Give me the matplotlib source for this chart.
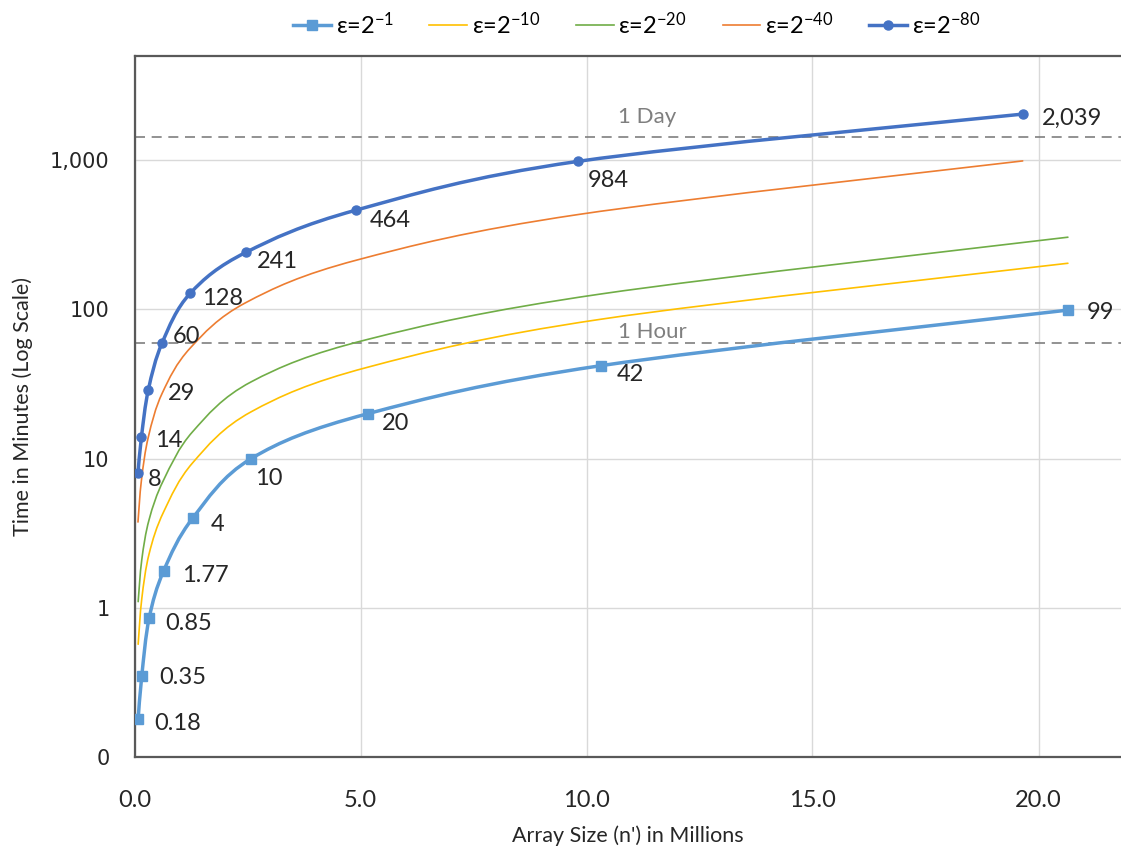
import numpy as np
import matplotlib
matplotlib.use('Agg')
from matplotlib import pyplot as plt
from matplotlib.path import Path
from matplotlib.patches import PathPatch
from matplotlib.lines import Line2D

plt.rcParams['font.family'] = ['Lato', 'DejaVu Sans']
plt.rcParams['mathtext.fontset'] = 'custom'
plt.rcParams['mathtext.rm'] = 'Lato'
plt.rcParams['mathtext.it'] = 'Lato'
plt.rcParams['mathtext.default'] = 'rm'

# array sizes in millions (two sample sets)
n_a = [0.081, 0.161, 0.323, 0.645, 1.29, 2.58, 5.16, 10.32, 20.65]
n_b = [0.077, 0.154, 0.307, 0.614, 1.23, 2.46, 4.91, 9.82, 19.65]

# time in minutes
t_e1 = [0.18, 0.35, 0.85, 1.77, 4, 10, 20, 42, 99]
t_e10 = [0.57, 1.15, 2.3, 4.4, 9.4, 20.6, 41, 86, 204]
t_e20 = [1.1, 2.1, 3.9, 7.2, 15.2, 32.7, 63, 127, 305]
t_e40 = [3.76, 7.2, 14, 27.5, 55, 111, 214, 433, 990]
t_e80 = [8, 14, 29, 60, 128, 241, 464, 984, 2039]

lbl_e1 = ['0.18', '0.35', '0.85', '1.77', '4', '10', '20', '42', '99']
lbl_e80 = ['8', '14', '29', '60', '128', '241', '464', '984', '2,039']

names = ['ε=2$^{-1}$', 'ε=2$^{-10}$', 'ε=2$^{-20}$', 'ε=2$^{-40}$', 'ε=2$^{-80}$']

hour = 60
day = 1440

ytick_vals = [0.1, 1, 10, 100, 1000]
ytick_lbls = ['0', '1', '10', '100', '1,000']
xtick_vals = [0, 5, 10, 15, 20]

c_e1 = '#5B9BD5'
c_e10 = '#FFC000'
c_e20 = '#70AD47'
c_e40 = '#ED7D31'
c_e80 = '#4472C4'


def smooth(xs, ys):
    # bezier path through the points, smoothed in (x, log y) space like Excel
    p = np.column_stack([np.asarray(xs, float), np.log10(ys)])
    n = len(p)
    verts = [p[0]]
    codes = [Path.MOVETO]
    for i in range(n - 1):
        p0 = p[max(i - 1, 0)]
        p1 = p[i]
        p2 = p[i + 1]
        p3 = p[min(i + 2, n - 1)]
        verts += [p1 + (p2 - p0) / 6, p2 - (p3 - p1) / 6, p2]
        codes += [Path.CURVE4] * 3
    verts = np.array(verts)
    verts[:, 1] = 10 ** verts[:, 1]
    return Path(verts, codes)


W, H = 1121, 850
fig = plt.figure(figsize=(W / 100, H / 100), dpi=100)
x0, y0, ytop = 134.5, 757, 56
ax = fig.add_axes([x0 / W, 1 - y0 / H, 1 - x0 / W, (y0 - ytop) / H])
ax.set_yscale('log')
ax.set_ylim(0.1, 5000)
ax.set_xlim(0, (W - x0) / 45.2)

ax.grid(True, color='#D9D9D9', lw=1.0)
ax.set_axisbelow(True)
ax.set_xticks(xtick_vals)
ax.set_xticklabels(['%.1f' % v for v in xtick_vals], fontsize=17, color='#262626')
ax.set_yticks(ytick_vals)
ax.set_yticklabels(ytick_lbls, fontsize=15, color='#262626', family='DejaVu Sans')
ax.minorticks_off()
ax.tick_params(axis='x', length=0, pad=24)
ax.tick_params(axis='y', length=0, pad=18)
for s in ['left', 'bottom', 'top']:
    ax.spines[s].set_color('#595959')
    ax.spines[s].set_linewidth(1.6)
ax.spines['right'].set_visible(False)

# reference lines
ax.axhline(day, color='#7F7F7F', lw=1.2, ls=(0, (6, 4)), zorder=1)
ax.axhline(hour, color='#7F7F7F', lw=1.2, ls=(0, (6, 4)), zorder=1)
ax.text(10.69, 1790, '1 Day', color='#7F7F7F', fontsize=16, va='baseline')
ax.text(10.69, 64.3, '1 Hour', color='#7F7F7F', fontsize=16, va='baseline')

series = [
    (n_b, t_e40, c_e40, 1.2),
    (n_a, t_e20, c_e20, 1.2),
    (n_a, t_e10, c_e10, 1.2),
    (n_a, t_e1, c_e1, 2.5),
    (n_b, t_e80, c_e80, 2.5),
]
for xs, ys, c, lw in series:
    ax.add_patch(PathPatch(smooth(xs, ys), fill=False, edgecolor=c, lw=lw,
                           capstyle='round', joinstyle='round', zorder=3))

ax.plot(n_a, t_e1, ls='none', marker='s', ms=7, color=c_e1, zorder=4)
ax.plot(n_b, t_e80, ls='none', marker='o', ms=6.5, color=c_e80, zorder=4)

# data label offsets in pixels (dx right, dy down)
off_e1 = [(16, 3), (17, 0), (16, 3), (18, 3), (18, 4), (4, 18), (14, 8), (16, 7), (19, 0)]
off_e80 = [(10, 4), (14, 2), (19, 2), (10, -8), (12, 3), (11, 7), (13, 8), (9, 17), (19, 2)]
k = 0.72
for xs, ys, lbls, offs in [(n_a, t_e1, lbl_e1, off_e1), (n_b, t_e80, lbl_e80, off_e80)]:
    for x, y, t, (dx, dy) in zip(xs, ys, lbls, offs):
        ax.annotate(t, (x, y), xytext=(dx * k, -dy * k), textcoords='offset points',
                    ha='left', va='center_baseline', fontsize=17, color='#262626', zorder=5)

ax.set_xlabel("Array Size (n') in Millions", fontsize=15.5, color='#262626', labelpad=10)
ax.set_ylabel('Time in Minutes (Log Scale)', fontsize=15.5, color='#262626', labelpad=12)

handles = [
    Line2D([], [], color=c_e1, lw=2.5, marker='s', ms=7),
    Line2D([], [], color=c_e10, lw=1.2),
    Line2D([], [], color=c_e20, lw=1.2),
    Line2D([], [], color=c_e40, lw=1.2),
    Line2D([], [], color=c_e80, lw=2.5, marker='o', ms=6.5),
]
fig.legend(handles, names, loc='upper center', bbox_to_anchor=(0.568, 1.012), ncol=5,
           frameon=False, fontsize=17, handlelength=1.6, columnspacing=1.5,
           handletextpad=0.2)

fig.savefig('out.png', dpi=100, facecolor='white')
